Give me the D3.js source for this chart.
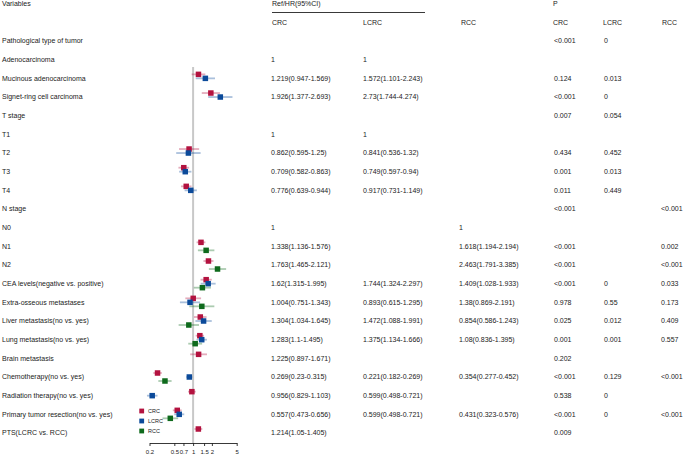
<!DOCTYPE html>
<html><head><meta charset="utf-8">
<script src="https://cdn.jsdelivr.net/npm/d3@7"></script>
<style>
html,body{margin:0;padding:0;background:#fff;}
text{font-family:"Liberation Sans",Arial,sans-serif;fill:#222;}
</style></head>
<body><svg id="c" width="685" height="457"></svg>
<script>
const rowLabels = ["Pathological type of tumor","Adenocarcinoma","Mucinous adenocarcinoma","Signet-ring cell carcinoma","T stage","T1","T2","T3","T4","N stage","N0","N1","N2","CEA levels(negative vs. positive)","Extra-osseous metastases","Liver metastasis(no vs. yes)","Lung metastasis(no vs. yes)","Brain metastasis","Chemotherapy(no vs. yes)","Radiation therapy(no vs. yes)","Primary tumor resection(no vs. yes)","PTS(LCRC vs. RCC)"];
const crcText = ["","1","1.219(0.947-1.569)","1.926(1.377-2.693)","","1","0.862(0.595-1.25)","0.709(0.582-0.863)","0.776(0.639-0.944)","","1","1.338(1.136-1.576)","1.763(1.465-2.121)","1.62(1.315-1.995)","1.004(0.751-1.343)","1.304(1.034-1.645)","1.283(1.1-1.495)","1.225(0.897-1.671)","0.269(0.23-0.315)","0.956(0.829-1.103)","0.557(0.473-0.656)","1.214(1.05-1.405)"];
const lcrcText = ["","1","1.572(1.101-2.243)","2.73(1.744-4.274)","","1","0.841(0.536-1.32)","0.749(0.597-0.94)","0.917(0.731-1.149)","","","","","1.744(1.324-2.297)","0.893(0.615-1.295)","1.472(1.088-1.991)","1.375(1.134-1.666)","","0.221(0.182-0.269)","0.599(0.498-0.721)","0.599(0.498-0.721)",""];
const rccText = ["","","","","","","","","","","1","1.618(1.194-2.194)","2.463(1.791-3.385)","1.409(1.028-1.933)","1.38(0.869-2.191)","0.854(0.586-1.243)","1.08(0.836-1.395)","","0.354(0.277-0.452)","","0.431(0.323-0.576)",""];
const pCrc = ["<0.001","","0.124","<0.001","0.007","","0.434","0.001","0.011","<0.001","","<0.001","<0.001","<0.001","0.978","0.025","0.001","0.202","<0.001","0.538","<0.001","0.009"];
const pLcrc = ["0","","0.013","0","0.054","","0.452","0.013","0.449","","","","","0","0.55","0.012","0.001","","0.129","0","0",""];
const pRcc = ["","","","","","","","","","<0.001","","0.002","<0.001","0.033","0.173","0.409","0.557","","<0.001","","<0.001",""];
// plotted estimates (null = no marker)
const crcHR = [null,null,1.219,1.926,null,null,0.862,0.709,0.776,null,null,1.338,1.763,1.62,1.004,1.304,1.283,1.225,0.269,0.956,0.557,1.214];
const crcLo = [null,null,0.947,1.377,null,null,0.595,0.582,0.639,null,null,1.136,1.465,1.315,0.751,1.034,1.1,0.897,0.23,0.829,0.473,1.05];
const crcHi = [null,null,1.569,2.693,null,null,1.25,0.863,0.944,null,null,1.576,2.121,1.995,1.343,1.645,1.495,1.671,0.315,1.103,0.656,1.405];
const lcrcHR = [null,null,1.572,2.73,null,null,0.841,0.749,0.917,null,null,null,null,1.744,0.893,1.472,1.375,null,0.87,0.221,0.599,null];
const lcrcLo = [null,null,1.101,1.744,null,null,0.536,0.597,0.731,null,null,null,null,1.324,0.615,1.088,1.134,null,0.78,0.182,0.498,null];
const lcrcHi = [null,null,2.243,4.274,null,null,1.32,0.94,1.149,null,null,null,null,2.297,1.295,1.991,1.666,null,0.97,0.269,0.721,null];
const rccHR = [null,null,null,null,null,null,null,null,null,null,null,1.618,2.463,1.409,1.38,0.854,1.08,null,0.354,null,0.431,null];
const rccLo = [null,null,null,null,null,null,null,null,null,null,null,1.194,1.791,1.028,0.869,0.586,0.836,null,0.277,null,0.323,null];
const rccHi = [null,null,null,null,null,null,null,null,null,null,null,2.194,3.385,1.933,2.191,1.243,1.395,null,0.452,null,0.576,null];
const seriesNames = ["CRC","LCRC","RCC"];
const seriesColors = ["#b3123f","#0b4a9a","#0e6a1c"];
const axisTicks = [0.2,0.5,0.7,1,1.5,2,5];

const svg = d3.select("#c");
const y = d3.scaleLinear().domain([0,23]).range([3.7,433]);
const x = d3.scaleLog().domain([0.2,5]).range([149.5,236.7]);
const fs = 7;

function txt(xp, yp, s, size){ svg.append("text").attr("x",xp).attr("y",yp).attr("dy","0.35em").attr("font-size",size||fs).text(s); }
// headers
txt(2, y(0), "Variables");
txt(272, y(0), "Ref/HR(95%CI)");
txt(553, y(0), "P");
svg.append("line").attr("x1",272).attr("x2",425).attr("y1",12.5).attr("y2",12.5).attr("stroke","#222").attr("stroke-width",0.9);
const hdrX = [272,363,461,553,603,662];
["CRC","LCRC","RCC","CRC","LCRC","RCC"].forEach((s,i)=>txt(hdrX[i], y(1), s));

const cols = [[2,rowLabels],[271,crcText],[363,lcrcText],[459,rccText],[554,pCrc],[604,pLcrc],[661,pRcc]];
cols.forEach(([cx,arr])=>arr.forEach((s,i)=>{ if(s) txt(cx, y(i+2), s); }));

// reference line
svg.append("line").attr("x1",x(1)).attr("x2",x(1)).attr("y1",67).attr("y2",443).attr("stroke","#c8c8c8").attr("stroke-width",2);

// series
const series = [[crcHR,crcLo,crcHi],[lcrcHR,lcrcLo,lcrcHi],[rccHR,rccLo,rccHi]];
const offs = [-4,0,4];
const sq = 5.5;
series.forEach(([hr,lo,hi],s)=>{
  const g = svg.append("g");
  hr.forEach((v,i)=>{
    if(v==null) return;
    const yy = y(i+2)+offs[s];
    g.append("line").attr("x1",x(lo[i])).attr("x2",x(hi[i])).attr("y1",yy).attr("y2",yy)
      .attr("stroke",seriesColors[s]).attr("stroke-opacity",0.35).attr("stroke-width",1.8);
    g.append("rect").attr("x",x(v)-sq/2).attr("y",yy-sq/2).attr("width",sq).attr("height",sq).attr("fill",seriesColors[s]);
  });
});

// axis
const ax = svg.append("g").attr("transform","translate(0,443)")
  .call(d3.axisBottom(x).tickValues(axisTicks).tickFormat(d=>String(d)).tickSize(3).tickSizeOuter(0));
ax.select(".domain").attr("stroke","#222").attr("stroke-width",0.9);
ax.selectAll(".tick line").attr("stroke","#222").attr("stroke-width",0.9);
ax.selectAll(".tick text").attr("font-size",6).attr("font-family","Liberation Sans, Arial, sans-serif").attr("fill","#222").attr("dy","0.9em");

// legend
seriesNames.forEach((n,i)=>{
  const ly = 411 + i*10;
  svg.append("rect").attr("x",139.3).attr("y",ly-2.4).attr("width",4.8).attr("height",4.8).attr("fill",seriesColors[i]);
  txt(148, ly, n, 5.5);
});
</script></body></html>
